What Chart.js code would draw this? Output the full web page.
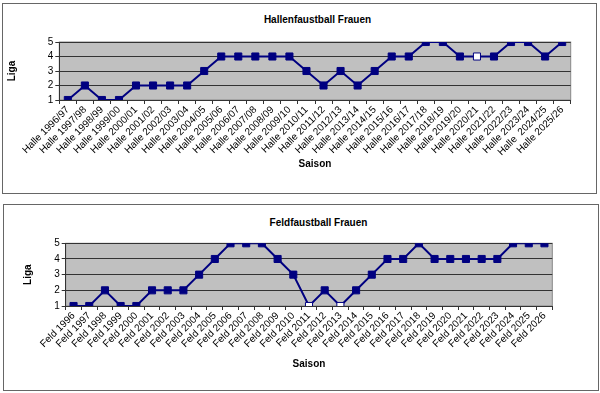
<!DOCTYPE html>
<html>
<head>
<meta charset="utf-8">
<script src="https://cdn.jsdelivr.net/npm/chart.js@4/dist/chart.umd.min.js"></script>
<style>
body { margin: 0; width: 600px; height: 393px; background: #fff; position: relative; font-family: "Liberation Sans", Arial, sans-serif; overflow: hidden; }
.panel { position: absolute; box-sizing: border-box; border: 1px solid #666; background: #fff; }
.panel canvas { position: absolute; left: 0; top: 0; }
.title { position: absolute; font-weight: bold; font-size: 10px; transform: translate(-50%, -50%); white-space: nowrap; color: #000; }
</style>
</head>
<body>
<div class="panel" style="left:2px;top:3px;width:595px;height:191px;">
  <div class="title" style="left:314.5px;top:15px;">Hallenfaustball Frauen</div>
  <canvas id="halle" width="593" height="189"></canvas>
</div>
<div class="panel" style="left:3px;top:204px;width:596px;height:187px;">
  <div class="title" style="left:314.5px;top:17px;">Feldfaustball Frauen</div>
  <canvas id="feld" width="594" height="185"></canvas>
</div>
<script>
// Hallenfaustball
const halleSaisons = ['Halle 1996/97', 'Halle 1997/98', 'Halle 1998/99', 'Halle 1999/00', 'Halle 2000/01',
  'Halle 2001/02', 'Halle 2002/03', 'Halle 2003/04', 'Halle 2004/05', 'Halle 2005/06', 'Halle 2006/07',
  'Halle 2007/08', 'Halle 2008/09', 'Halle 2009/10', 'Halle 2010/11', 'Halle 2011/12', 'Halle 2012/13',
  'Halle 2013/14', 'Halle 2014/15', 'Halle 2015/16', 'Halle 2016/17', 'Halle 2017/18', 'Halle 2018/19',
  'Halle 2019/20', 'Halle 2020/21', 'Halle 2021/22', 'Halle 2022/23', 'Halle 2023/24', 'Halle  2024/25',
  'Halle 2025/26'];
const halleLiga = [1, 2, 1, 1, 2, 2, 2, 2, 3, 4, 4, 4, 4, 4, 3, 2, 3, 2, 3, 4, 4, 5, 5, 4, 4, 4, 5, 5, 4, 5];
const halleOffen = ['Halle 2020/21'];   // white marker

// Feldfaustball
const feldSaisons = ['Feld 1996', 'Feld 1997', 'Feld 1998', 'Feld 1999', 'Feld 2000', 'Feld 2001', 'Feld 2002',
  'Feld 2003', 'Feld 2004', 'Feld 2005', 'Feld 2006', 'Feld 2007', 'Feld 2008', 'Feld 2009', 'Feld 2010',
  'Feld 2011', 'Feld 2012', 'Feld 2013', 'Feld 2014', 'Feld 2015', 'Feld 2016', 'Feld 2017', 'Feld 2018',
  'Feld 2019', 'Feld 2020', 'Feld 2021', 'Feld 2022', 'Feld 2023', 'Feld 2024', 'Feld 2025', 'Feld 2026'];
const feldLiga = [1, 1, 2, 1, 1, 2, 2, 2, 3, 4, 5, 5, 5, 4, 3, 1, 2, 1, 2, 3, 4, 4, 5, 4, 4, 4, 4, 4, 5, 5, 5];
const feldOffen = ['Feld 2011', 'Feld 2013'];

const ligaMin = 1;
const ligaMax = 5;

Chart.defaults.font.family = "'Liberation Sans', Arial, sans-serif";
Chart.defaults.color = '#000';

const plotBg = {
  id: 'plotBg',
  beforeDraw(chart) {
    const a = chart.chartArea;
    const ctx = chart.ctx;
    ctx.save();
    ctx.fillStyle = '#c0c0c0';
    ctx.fillRect(a.left, a.top, a.right - a.left, a.bottom - a.top);
    ctx.strokeStyle = '#888';
    ctx.lineWidth = 1;
    ctx.strokeRect(a.left, a.top, a.right - a.left, a.bottom - a.top);
    ctx.restore();
  }
};

function makeChart(id, labels, values, offen, o) {
  return new Chart(document.getElementById(id), {
    type: 'line',
    data: {
      labels: labels,
      datasets: [{
        data: values,
        borderColor: '#000080',
        borderWidth: 2,
        tension: 0,
        pointStyle: 'rect',
        pointRadius: 5,
        pointHoverRadius: 5,
        pointBorderColor: '#000080',
        pointBorderWidth: 1,
        pointBackgroundColor: c => offen.includes(labels[c.dataIndex]) ? '#ffffff' : '#000080'
      }]
    },
    options: {
      responsive: false,
      animation: false,
      events: [],
      layout: { padding: { top: o.top, right: o.right, bottom: 0, left: 0 } },
      plugins: { legend: { display: false }, tooltip: { enabled: false } },
      scales: {
        x: {
          offset: true,
          grid: { offset: true, drawOnChartArea: false, color: '#333', tickLength: 4 },
          border: { color: '#333' },
          ticks: { autoSkip: false, maxRotation: 45, minRotation: 45, font: { size: 10 }, padding: 0 },
          title: { display: true, text: 'Saison', font: { size: 10, weight: 'bold' }, padding: { top: 0, bottom: o.xTitlePad } },
          afterFit(s) { s.height = o.xHeight; }
        },
        y: {
          min: ligaMin,
          max: ligaMax,
          grid: { color: '#333', tickLength: 4 },
          border: { color: '#333' },
          ticks: { stepSize: 1, autoSkip: false, font: { size: 10 }, padding: 2 },
          title: { display: true, text: 'Liga', font: { size: 10, weight: 'bold' }, padding: { top: o.yTitlePad, bottom: 0 } },
          afterFit(s) { s.width = o.yWidth; }
        }
      }
    },
    plugins: [plotBg]
  });
}

makeChart('halle', halleSaisons, halleLiga, halleOffen,
  { top: 38, right: 25.3, xHeight: 93, yWidth: 56.3, xTitlePad: 23, yTitlePad: 3 });
makeChart('feld', feldSaisons, feldLiga, feldOffen,
  { top: 38.3, right: 45.7, xHeight: 84, yWidth: 61.7, xTitlePad: 20, yTitlePad: 18.5 });
</script>
</body>
</html>
